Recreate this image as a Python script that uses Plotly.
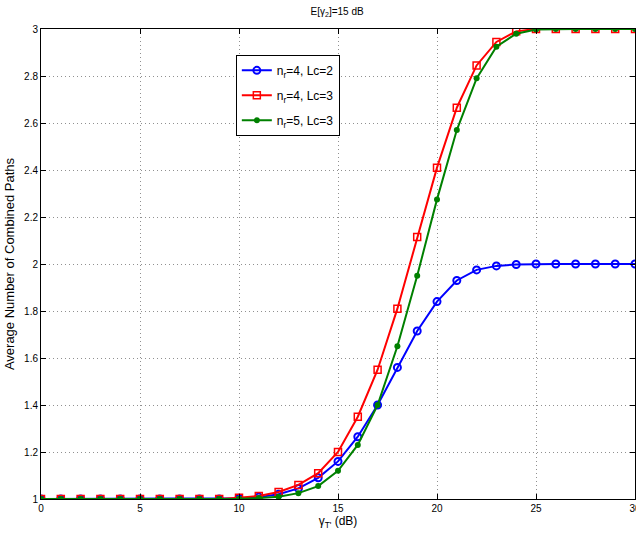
import plotly.graph_objects as go

x_vals = list(range(0, 31))
blue_y = [1.0]*10 + [1.003, 1.008, 1.02, 1.045, 1.09, 1.16, 1.265, 1.40, 1.56, 1.715, 1.84, 1.93, 1.975, 1.992, 1.998, 2.0, 2.0, 2.0, 2.0, 2.0, 2.0]
red_y = [1.0]*10 + [1.005, 1.013, 1.03, 1.06, 1.11, 1.20, 1.35, 1.55, 1.81, 2.115, 2.41, 2.665, 2.845, 2.945, 2.99, 3.0, 3.0, 3.0, 3.0, 3.0, 3.0]
green_y = [1.0]*10 + [1.001, 1.004, 1.01, 1.025, 1.055, 1.12, 1.23, 1.40, 1.65, 1.95, 2.275, 2.57, 2.79, 2.925, 2.98, 2.998, 3.0, 3.0, 3.0, 3.0, 3.0]

series_names = ["n<sub>r</sub>=4, Lc=2", "n<sub>r</sub>=4, Lc=3", "n<sub>r</sub>=5, Lc=3"]
x_ticks = [0, 5, 10, 15, 20, 25, 30]
y_ticks = [1, 1.2, 1.4, 1.6, 1.8, 2, 2.2, 2.4, 2.6, 2.8, 3]
y_tick_text = ["1", "1.2", "1.4", "1.6", "1.8", "2", "2.2", "2.4", "2.6", "2.8", "3"]

fig = go.Figure()
fig.add_trace(go.Scatter(x=x_vals, y=blue_y, mode="lines+markers", name=series_names[0], legendgroup="a",
                         line=dict(color="#0000ff", width=2),
                         marker=dict(symbol="circle-open", size=7, color="#0000ff", line=dict(width=2))))
fig.add_trace(go.Scatter(x=x_vals, y=red_y, mode="lines+markers", name=series_names[1], legendgroup="b",
                         line=dict(color="#ff0000", width=2),
                         marker=dict(symbol="square-open", size=7, color="#ff0000", line=dict(width=1.5))))
fig.add_trace(go.Scatter(x=x_vals, y=green_y, mode="lines+markers", name=series_names[2], legendgroup="c",
                         line=dict(color="#008000", width=2),
                         marker=dict(symbol="circle", size=6, color="#008000")))

axis_common = dict(showline=True, linecolor="black", linewidth=1, mirror="ticks",
                   ticks="inside", ticklen=5, tickcolor="black",
                   showgrid=True, gridcolor="#909090", griddash="1px,3px", gridwidth=1,
                   zeroline=False, ticklabeloverflow="allow", automargin=False,
                   tickfont=dict(family="Liberation Sans, Arial", size=10, color="black"))

fig.update_layout(
    width=636, height=538,
    margin=dict(l=41, r=1, t=29, b=39),
    paper_bgcolor="white", plot_bgcolor="white",
    font=dict(family="Liberation Sans, Arial", color="black"),
    title=dict(text="E[γ<sub>2</sub>]=15 dB", x=0.53, xanchor="center", y=0.985, yanchor="top",
               font=dict(size=10)),
    xaxis=dict(range=[0, 30], tickvals=x_ticks,
               title=dict(text="γ<sub>T'</sub> (dB)", font=dict(size=12), standoff=2), **axis_common),
    yaxis=dict(range=[1, 3], tickvals=y_ticks, ticktext=y_tick_text,
               title=dict(text="Average Number of Combined Paths", font=dict(size=13), standoff=6), **axis_common),
    legend=dict(x=0.328, y=0.945, xanchor="left", yanchor="top", bgcolor="white",
                bordercolor="black", borderwidth=1, font=dict(size=12), tracegroupgap=6),
    showlegend=True,
)

fig.write_html("out.html")
